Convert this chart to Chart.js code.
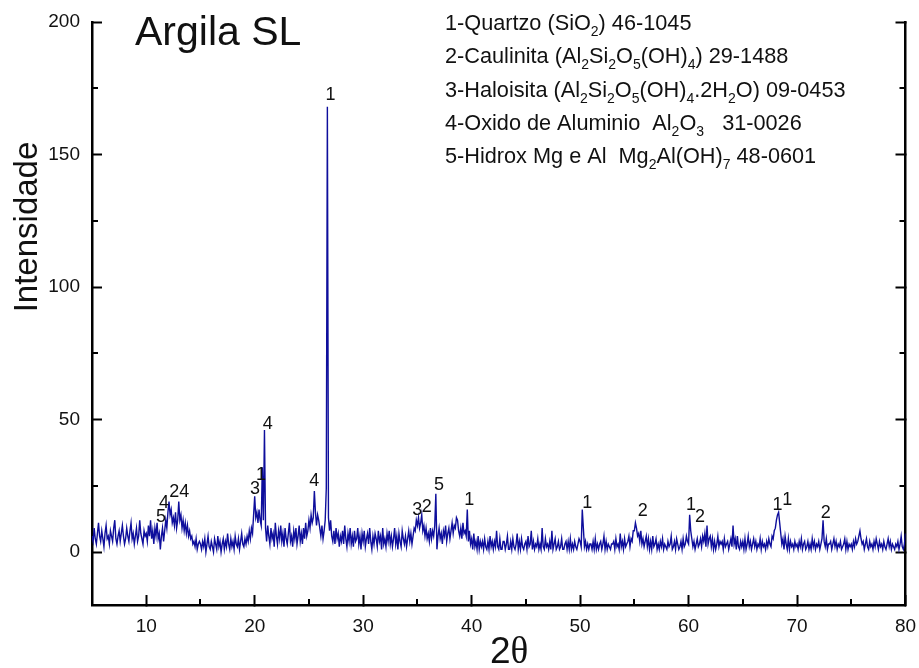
<!DOCTYPE html>
<html>
<head>
<meta charset="utf-8">
<title>Argila SL</title>
<script src="https://cdn.jsdelivr.net/npm/chart.js@4.4.1/dist/chart.umd.min.js"></script>
<style>
  html, body { margin: 0; padding: 0; background: #fff; }
  #wrap { width: 919px; height: 668px; position: relative; }
</style>
</head>
<body>
<div id="wrap"><canvas id="xrd"></canvas></div>
<script>
// diffractogram, 2theta 5..80 deg in 0.1 deg steps
const scanStart = 5;
const scanStep = 0.1;
const counts = [
  6, 4, 9, 5, 3, 7, 11, 6, 4, 8,
  5, 2, 7, 10, 5, 6, 3, 8, 6, 4,
  9, 12, 5, 3, 6, 8, 4, 7, 10, 6,
  3, 5, 9, 6, 4, 8, 11, 5, 7, 3,
  6, 9, 4, 6, 12, 7, 5, 3, 8, 6,
  // 10
  7, 4, 10, 6, 12, 5, 8, 3, 9, 6,
  11, 5, 7, 1, 6, 9, 4, 8, 12, 9,
  15, 19, 14, 16, 11, 13, 10, 15, 9, 12,
  19, 12, 14, 9, 12, 8, 11, 7, 10, 6,
  8, 5, 6, 3, 4, 2, 5, 1, 3, 4,
  // 15
  3, 1, 4, 2, 5, 0, 3, 6, 2, 1,
  4, 2, 0, 5, 3, 1, 6, 2, 4, 0,
  3, 5, 1, 4, 2, 7, 3, 1, 5, 2,
  4, 1, 6, 3, 2, 5, 1, 4, 7, 3,
  2, 5, 3, 6, 4, 8, 5, 9, 7, 14,
  // 20
  21, 13, 15, 11, 16, 12, 10, 32, 12, 46,
  9, 4, 10, 6, 3, 9, 5, 7, 2, 11,
  6, 3, 8, 5, 10, 4, 7, 2, 9, 5,
  3, 7, 11, 4, 6, 2, 8, 5, 9, 3,
  6, 10, 4, 7, 3, 9, 5, 11, 6, 8,
  // 25
  12, 9, 14, 11, 13, 23, 15, 10, 14, 12,
  9, 6, 10, 5, 8, 12, 24, 168, 13, 8,
  12, 6, 4, 8, 3, 9, 5, 7, 2, 6,
  4, 8, 3, 10, 5, 2, 7, 4, 9, 3,
  6, 2, 8, 4, 5, 9, 3, 6, 1, 7,
  // 30
  4, 8, 2, 5, 7, 3, 9, 4, 1, 6,
  3, 7, 5, 2, 8, 4, 6, 1, 9, 3,
  5, 2, 7, 4, 8, 3, 6, 2, 5, 9,
  3, 6, 1, 7, 4, 2, 8, 5, 3, 6,
  2, 5, 8, 4, 7, 3, 6, 9, 8, 12,
  // 35
  10, 13, 9, 11, 14, 8, 10, 6, 9, 5,
  7, 4, 9, 5, 8, 6, 10, 22, 1, 6,
  9, 5, 7, 3, 8, 6, 10, 4, 7, 9,
  5, 8, 11, 7, 10, 9, 13, 12, 8, 6,
  9, 5, 11, 7, 8, 6, 16, 4, 8, 3,
  // 40
  5, 1, 7, 2, 4, 1, 6, 1, 4, 2,
  4, 1, 5, 2, 1, 4, 1, 6, 2, 4,
  1, 4, 2, 8, 2, 1, 5, 1, 1, 4,
  4, 1, 3, 6, 1, 1, 4, 1, 5, 2,
  1, 3, 7, 1, 4, 1, 5, 2, 1, 3,
  // 45
  4, 1, 6, 2, 3, 8, 1, 4, 1, 3,
  2, 5, 1, 3, 1, 9, 2, 1, 5, 2,
  3, 1, 4, 1, 8, 1, 3, 5, 1, 2,
  4, 1, 2, 5, 1, 1, 3, 4, 1, 4,
  1, 5, 1, 3, 1, 4, 2, 1, 3, 5,
  // 50
  4, 2, 16, 9, 2, 4, 1, 3, 1, 3,
  3, 1, 4, 1, 5, 1, 3, 1, 3, 4,
  1, 3, 6, 1, 4, 1, 3, 2, 1, 3,
  3, 4, 1, 5, 2, 3, 1, 7, 2, 4,
  1, 5, 2, 3, 4, 6, 2, 5, 4, 8,
  // 55
  8, 11, 9, 6, 7, 4, 8, 3, 5, 2,
  4, 6, 2, 5, 1, 4, 1, 6, 2, 3,
  5, 1, 3, 1, 4, 2, 5, 1, 3, 2,
  1, 4, 2, 3, 6, 1, 2, 4, 1, 5,
  3, 1, 2, 4, 1, 5, 2, 3, 6, 4,
  // 60
  3, 14, 8, 5, 2, 4, 1, 3, 5, 2,
  3, 5, 2, 6, 4, 7, 2, 10, 3, 5,
  6, 2, 5, 1, 4, 1, 3, 6, 2, 4,
  3, 4, 1, 5, 2, 3, 4, 1, 3, 5,
  2, 10, 3, 5, 1, 6, 2, 1, 4, 2,
  // 65
  4, 1, 5, 1, 3, 6, 2, 4, 1, 3,
  5, 2, 4, 1, 3, 2, 5, 1, 4, 2,
  3, 1, 4, 2, 5, 3, 2, 6, 5, 8,
  9, 12, 14, 15, 11, 7, 3, 5, 1, 6,
  3, 1, 5, 1, 4, 2, 3, 1, 4, 2,
  // 70
  3, 1, 4, 2, 5, 1, 3, 4, 1, 2,
  4, 1, 3, 1, 5, 2, 4, 1, 3, 2,
  4, 1, 3, 5, 12, 4, 2, 5, 1, 3,
  3, 4, 1, 3, 5, 2, 4, 1, 3, 2,
  4, 1, 2, 3, 5, 1, 4, 1, 3, 2,
  // 75
  3, 1, 4, 2, 5, 3, 4, 6, 8, 5,
  3, 4, 1, 3, 5, 2, 1, 4, 2, 3,
  1, 4, 2, 5, 3, 1, 4, 2, 3, 1,
  4, 2, 1, 3, 5, 2, 4, 1, 3, 2,
  1, 3, 2, 4, 1, 3, 6, 2, 1, 3,
  7
];

const xTickValues = [10, 20, 30, 40, 50, 60, 70, 80];
const xMinorValues = [15, 25, 35, 45, 55, 65, 75];
const yTickValues = [0, 50, 100, 150, 200];
const yMinorValues = [25, 75, 125, 175];

// phase number written above each reflection
const peakTags   = ['1', '5', '4', '2', '4', '3', '1', '4', '4', '3', '2', '5', '1', '1', '2', '1', '2', '1', '1', '2'];
const peakAngles = [27.0, 11.36, 11.64, 12.59, 13.51, 20.03, 20.58, 21.2, 25.49, 34.99, 35.86, 36.99, 39.78, 50.66, 55.77, 60.22, 61.05, 68.21, 69.1, 72.64];
const peakLevels = [172.5, 13.2, 18.5, 22.7, 22.7, 23.7, 29, 48.2, 26.8, 16, 16.8, 25.2, 19.5, 18.5, 15.5, 17.9, 13.2, 17.9, 19.5, 14.7];

// "_x" marks a subscript character
const phases = [
  '1-Quartzo (SiO_2) 46-1045',
  '2-Caulinita (Al_2Si_2O_5(OH)_4) 29-1488',
  '3-Haloisita (Al_2Si_2O_5(OH)_4.2H_2O) 09-0453',
  '4-Oxido de Aluminio  Al_2O_3   31-0026',
  '5-Hidrox Mg e Al  Mg_2Al(OH)_7 48-0601'
];

const SANS = '"Liberation Sans", Arial, sans-serif';
const SERIF = '"Liberation Serif", "Times New Roman", serif';

function drawRich(ctx, str, x, y) {
  const parts = str.split(/(_.)/).filter(p => p.length);
  parts.forEach(p => {
    const sub = p[0] === '_';
    const txt = sub ? p.slice(1) : p;
    ctx.font = (sub ? '14px ' : '21.7px ') + SANS;
    ctx.fillText(txt, x, sub ? y + 6 : y);
    x += ctx.measureText(txt).width;
  });
}

const decor = {
  id: 'decor',
  afterDraw(chart) {
    const { ctx, chartArea: a, scales: { x, y } } = chart;
    ctx.save();

    // minor ticks, pointing into the plot
    ctx.strokeStyle = '#000';
    ctx.lineWidth = 2;
    ctx.beginPath();
    yMinorValues.forEach(v => {
      const py = Math.round(y.getPixelForValue(v));
      ctx.moveTo(a.left, py); ctx.lineTo(a.left + 6, py);
      ctx.moveTo(a.right, py); ctx.lineTo(a.right - 6, py);
    });
    xMinorValues.forEach(v => {
      const px = Math.round(x.getPixelForValue(v));
      ctx.moveTo(px, a.bottom); ctx.lineTo(px, a.bottom - 6);
    });
    ctx.stroke();

    // peak assignments
    ctx.fillStyle = '#111';
    ctx.font = '18px ' + SANS;
    ctx.textAlign = 'center';
    ctx.textBaseline = 'middle';
    peakTags.forEach((t, i) => {
      ctx.fillText(t, x.getPixelForValue(peakAngles[i]), y.getPixelForValue(peakLevels[i]));
    });

    // sample name and phase list
    ctx.textAlign = 'left';
    ctx.textBaseline = 'alphabetic';
    ctx.font = '41px ' + SANS;
    ctx.fillText('Argila SL', 135, 45);
    phases.forEach((line, i) => drawRich(ctx, line, 445, 30 + i * 33.3));

    // axis titles
    ctx.save();
    ctx.translate(28, 227);
    ctx.rotate(-Math.PI / 2);
    ctx.textAlign = 'center';
    ctx.textBaseline = 'middle';
    ctx.font = '33px ' + SANS;
    ctx.fillText('Intensidade', 0, 0);
    ctx.restore();

    ctx.font = '37px ' + SANS;
    ctx.fillText('2', 490, 663);
    const w2 = ctx.measureText('2').width;
    ctx.font = '37px ' + SERIF;
    ctx.fillText('\u03b8', 490 + w2, 663);

    ctx.restore();
  }
};

const tickFont = { family: SANS, size: 19 };
const axisGrid = { drawOnChartArea: false, color: '#000', tickLength: -10, tickWidth: 2 };
const axisBorder = { color: '#000', width: 2.5 };

function fixHeight(h) {
  return s => { s.height = h; s.paddingLeft = 0; s.paddingRight = 0; };
}
function fixWidth(w) {
  return s => { s.width = w; s.paddingTop = 0; s.paddingBottom = 0; };
}

const points = counts.map((c, i) => ({ x: scanStart + i * scanStep, y: c }));

new Chart(document.getElementById('xrd'), {
  type: 'line',
  data: {
    datasets: [{
      data: points,
      borderColor: 'rgb(14, 14, 156)',
      borderWidth: 1.4,
      pointRadius: 0,
      tension: 0,
      fill: false
    }]
  },
  options: {
    responsive: true,
    maintainAspectRatio: false,
    animation: false,
    devicePixelRatio: 1,
    layout: { padding: { top: 22, left: 0, right: 0, bottom: 0 } },
    plugins: { legend: { display: false }, tooltip: { enabled: false } },
    scales: {
      x: {
        type: 'linear',
        position: 'bottom',
        min: 5,
        max: 80,
        afterBuildTicks: s => { s.ticks = xTickValues.map(v => ({ value: v })); },
        afterFit: fixHeight(63),
        grid: axisGrid,
        border: axisBorder,
        ticks: { padding: 20, color: '#111', font: tickFont, maxRotation: 0, autoSkip: false }
      },
      y: {
        type: 'linear',
        position: 'left',
        min: -20,
        max: 200,
        afterBuildTicks: s => { s.ticks = yTickValues.map(v => ({ value: v })); },
        afterFit: fixWidth(92),
        grid: axisGrid,
        border: axisBorder,
        ticks: { padding: 22, color: '#111', font: tickFont }
      },
      y2: {
        type: 'linear',
        position: 'right',
        min: -20,
        max: 200,
        afterBuildTicks: s => { s.ticks = yTickValues.map(v => ({ value: v })); },
        afterFit: fixWidth(13.5),
        grid: axisGrid,
        border: axisBorder,
        ticks: { display: false }
      }
    }
  },
  plugins: [decor]
});
</script>
</body>
</html>
